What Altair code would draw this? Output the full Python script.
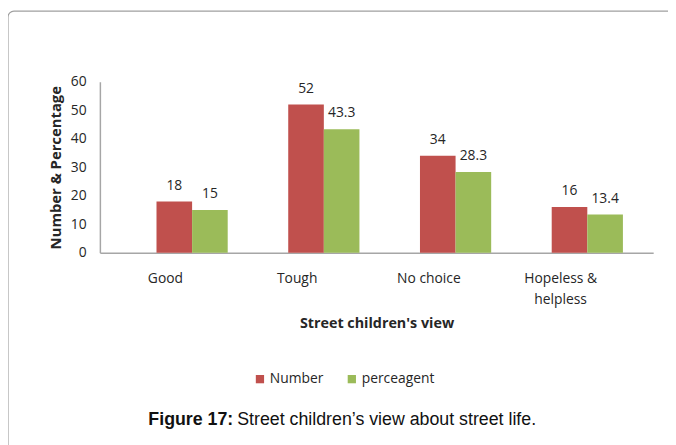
import altair as alt
import pandas as pd

# ---- data ----
categories = ["Good", "Tough", "No choice", "Hopeless & helpless"]
series = ["Number", "perceagent"]
number_values = [18, 52, 34, 16]
percent_values = [15, 43.3, 28.3, 13.4]
y_ticks = [0, 10, 20, 30, 40, 50, 60]
colors = ["#C0504D", "#9BBB59"]
caption_bold = "Figure 17:"
caption_text = "Street children\u2019s view about street life."

rows = []
for c, n, p in zip(categories, number_values, percent_values):
    rows.append({"category": c, "series": series[0], "value": n, "label": f"{n:g}"})
    rows.append({"category": c, "series": series[1], "value": p, "label": f"{p:g}"})
df = pd.DataFrame(rows)

FONT = "Open Sans"
TEXT = "#262626"
AXIS_GRAY = "#A6A6A6"

x = alt.X(
    "category:N",
    sort=categories,
    scale=alt.Scale(domain=categories, paddingInner=0, paddingOuter=0.1, align=1),
    axis=alt.Axis(
        title="Street children's view",
        labelExpr="datum.label == 'Hopeless & helpless' ? ['Hopeless &', 'helpless'] : datum.label",
        labelAngle=0,
        labelOffset=-27,
        labelPadding=19,
        labelFont=FONT,
        labelFontSize=14,
        labelLineHeight=21,
        labelColor=TEXT,
        labelBaseline="top",
        ticks=False,
        domainColor=AXIS_GRAY,
        domainWidth=1.5,
        titleFont=FONT,
        titleFontSize=14.5,
        titleFontWeight="bold",
        titleColor=TEXT,
        titlePadding=11,
    ),
)
y = alt.Y(
    "value:Q",
    scale=alt.Scale(domain=[0, 60], nice=False),
    axis=alt.Axis(
        values=y_ticks,
        title="Number & Percentage",
        grid=False,
        ticks=False,
        labelPadding=14,
        labelFont=FONT,
        labelFontSize=14,
        labelColor=TEXT,
        domainColor=AXIS_GRAY,
        domainWidth=1.5,
        titleFont=FONT,
        titleFontSize=15,
        titleFontWeight="bold",
        titleColor=TEXT,
        titlePadding=7,
    ),
)
xo = alt.XOffset(
    "series:N", sort=series,
    scale=alt.Scale(domain=series, paddingInner=0, paddingOuter=0.85),
)
color = alt.Color(
    "series:N",
    scale=alt.Scale(domain=series, range=colors),
    legend=alt.Legend(
        title=None,
        orient="none",
        legendX=155,
        legendY=294,
        direction="horizontal",
        symbolType="square",
        symbolSize=70,
        symbolStrokeWidth=0,
        labelFont=FONT,
        labelFontSize=14,
        labelColor=TEXT,
        labelOffset=3,
        columnPadding=21,
        padding=0,
    ),
)

bars = alt.Chart(df).mark_bar().encode(x=x, xOffset=xo, y=y, color=color)
labels = alt.Chart(df).mark_text(
    baseline="alphabetic", dy=-12, fontSize=14, font=FONT, color=TEXT
).encode(x=x, xOffset=xo, y=y, text="label:N")

frame = alt.Chart(pd.DataFrame({"k": [0]})).mark_rect(
    fill="transparent", stroke="#A0A0A0", strokeWidth=1.2, cornerRadius=6
).encode(x=alt.value(-93), x2=alt.value(600), y=alt.value(-71.5), y2=alt.value(400))

cap1 = alt.Chart(pd.DataFrame({"t": [caption_bold]})).mark_text(
    align="right", baseline="alphabetic", font="Liberation Sans", fontSize=18,
    fontWeight="bold", color="#111111"
).encode(text="t:N", x=alt.value(135), y=alt.value(347))
cap2 = alt.Chart(pd.DataFrame({"t": [caption_text]})).mark_text(
    align="left", baseline="alphabetic", font="Liberation Sans", fontSize=18,
    color="#111111"
).encode(text="t:N", x=alt.value(139), y=alt.value(347))

chart = alt.layer(frame, bars, labels, cap1, cap2).properties(
    width=560,
    height=173,
    autosize=alt.AutoSizeParams(type="none"),
    padding={"left": 93, "top": 72, "right": 15, "bottom": 192},
    background="white",
).configure_view(strokeWidth=0)

chart.save("out.html", embed_options={"renderer": "svg", "actions": False})
